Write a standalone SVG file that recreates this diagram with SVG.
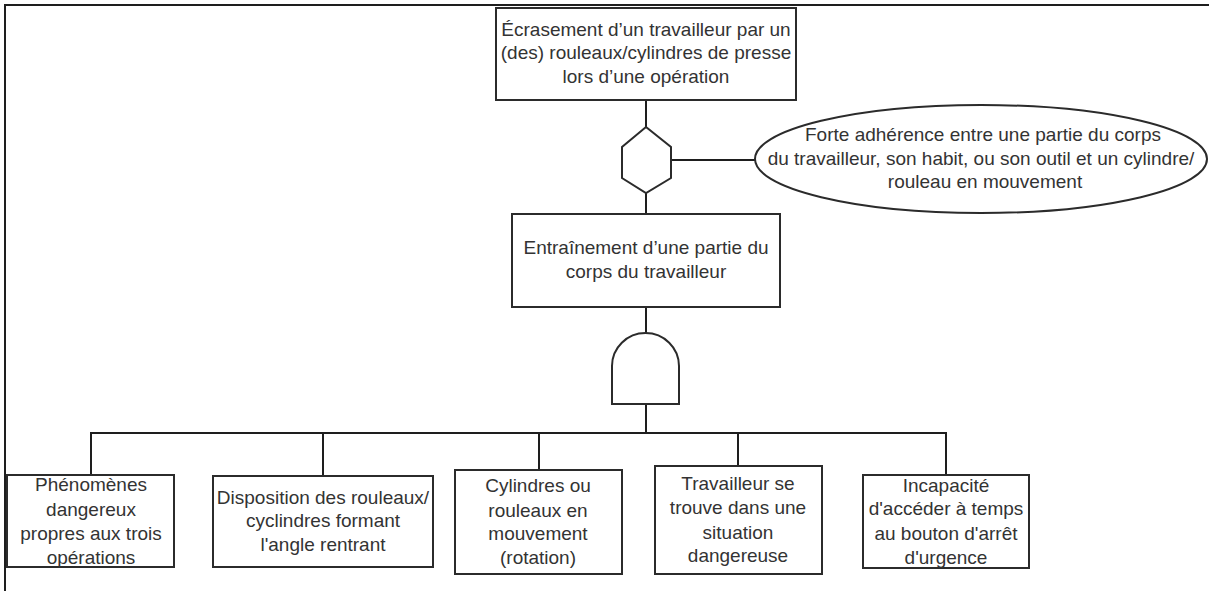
<svg xmlns="http://www.w3.org/2000/svg" width="1209" height="591" viewBox="0 0 1209 591">
<style>
.box{fill:#fff;stroke:#2b2b2b;stroke-width:2}
.ln{fill:none;stroke:#1e1e1e;stroke-width:2}
text{font-family:"Liberation Sans",Arial,sans-serif;font-size:19px;fill:#333;text-anchor:middle}
</style>
<rect width="1209" height="591" fill="#fff"/>
<path class="ln" d="M5,591 V5 H1209"/>
<g id="connectors">
<path class="ln" d="M646,100 V127"/>
<path class="ln" d="M646,193 V214"/>
<path class="ln" d="M671,160 H755"/>
<path class="ln" d="M646,307 V333"/>
<path class="ln" d="M646,404 V433"/>
<path class="ln" d="M91,475 V433 H946 V475"/>
<path class="ln" d="M323,433 V476"/>
<path class="ln" d="M539,433 V470"/>
<path class="ln" d="M738,433 V466"/>
</g>
<g id="top">
<rect class="box" x="496" y="8" width="300" height="92"/>
<text x="646" y="36">Écrasement d’un travailleur par un</text>
<text x="646" y="59">(des) rouleaux/cylindres de presse</text>
<text x="646" y="83">lors d’une opération</text>
</g>
<g id="gate-inhibit">
<polygon class="box" points="646,127 671,147 671,178 646,193 622,178 622,147"/>
</g>
<g id="condition">
<ellipse class="box" cx="981" cy="159" rx="226" ry="54"/>
<text x="983" y="141">Forte adhérence entre une partie du corps</text>
<text x="981" y="165">du travailleur, son habit, ou son outil et un cylindre/</text>
<text x="985" y="188">rouleau en mouvement</text>
</g>
<g id="middle">
<rect class="box" x="512" y="214" width="268" height="93"/>
<text x="646" y="254">Entraînement d’une partie du</text>
<text x="646" y="278">corps du travailleur</text>
</g>
<g id="gate-and">
<path class="box" d="M612,404 V366 A33.5,33 0 0 1 679,366 V404 Z"/>
</g>
<g id="b1">
<rect class="box" x="7" y="475" width="167" height="92"/>
<text x="91" y="491">Phénomènes</text>
<text x="91" y="516">dangereux</text>
<text x="91" y="540">propres aux trois</text>
<text x="91" y="564">opérations</text>
</g>
<g id="b2">
<rect class="box" x="213" y="476" width="220" height="91"/>
<text x="323" y="504">Disposition des rouleaux/</text>
<text x="323" y="527">cyclindres formant</text>
<text x="323" y="551">l'angle rentrant</text>
</g>
<g id="b3">
<rect class="box" x="455" y="470" width="167" height="104"/>
<text x="538" y="492">Cylindres ou</text>
<text x="538" y="517">rouleaux en</text>
<text x="538" y="540">mouvement</text>
<text x="538" y="564">(rotation)</text>
</g>
<g id="b4">
<rect class="box" x="655" y="466" width="167" height="108"/>
<text x="738" y="490">Travailleur se</text>
<text x="738" y="514">trouve dans une</text>
<text x="738" y="539">situation</text>
<text x="738" y="562">dangereuse</text>
</g>
<g id="b5">
<rect class="box" x="863" y="475" width="166" height="93"/>
<text x="946" y="492">Incapacité</text>
<text x="946" y="515">d'accéder à temps</text>
<text x="946" y="540">au bouton d'arrêt</text>
<text x="946" y="564">d'urgence</text>
</g>
</svg>
